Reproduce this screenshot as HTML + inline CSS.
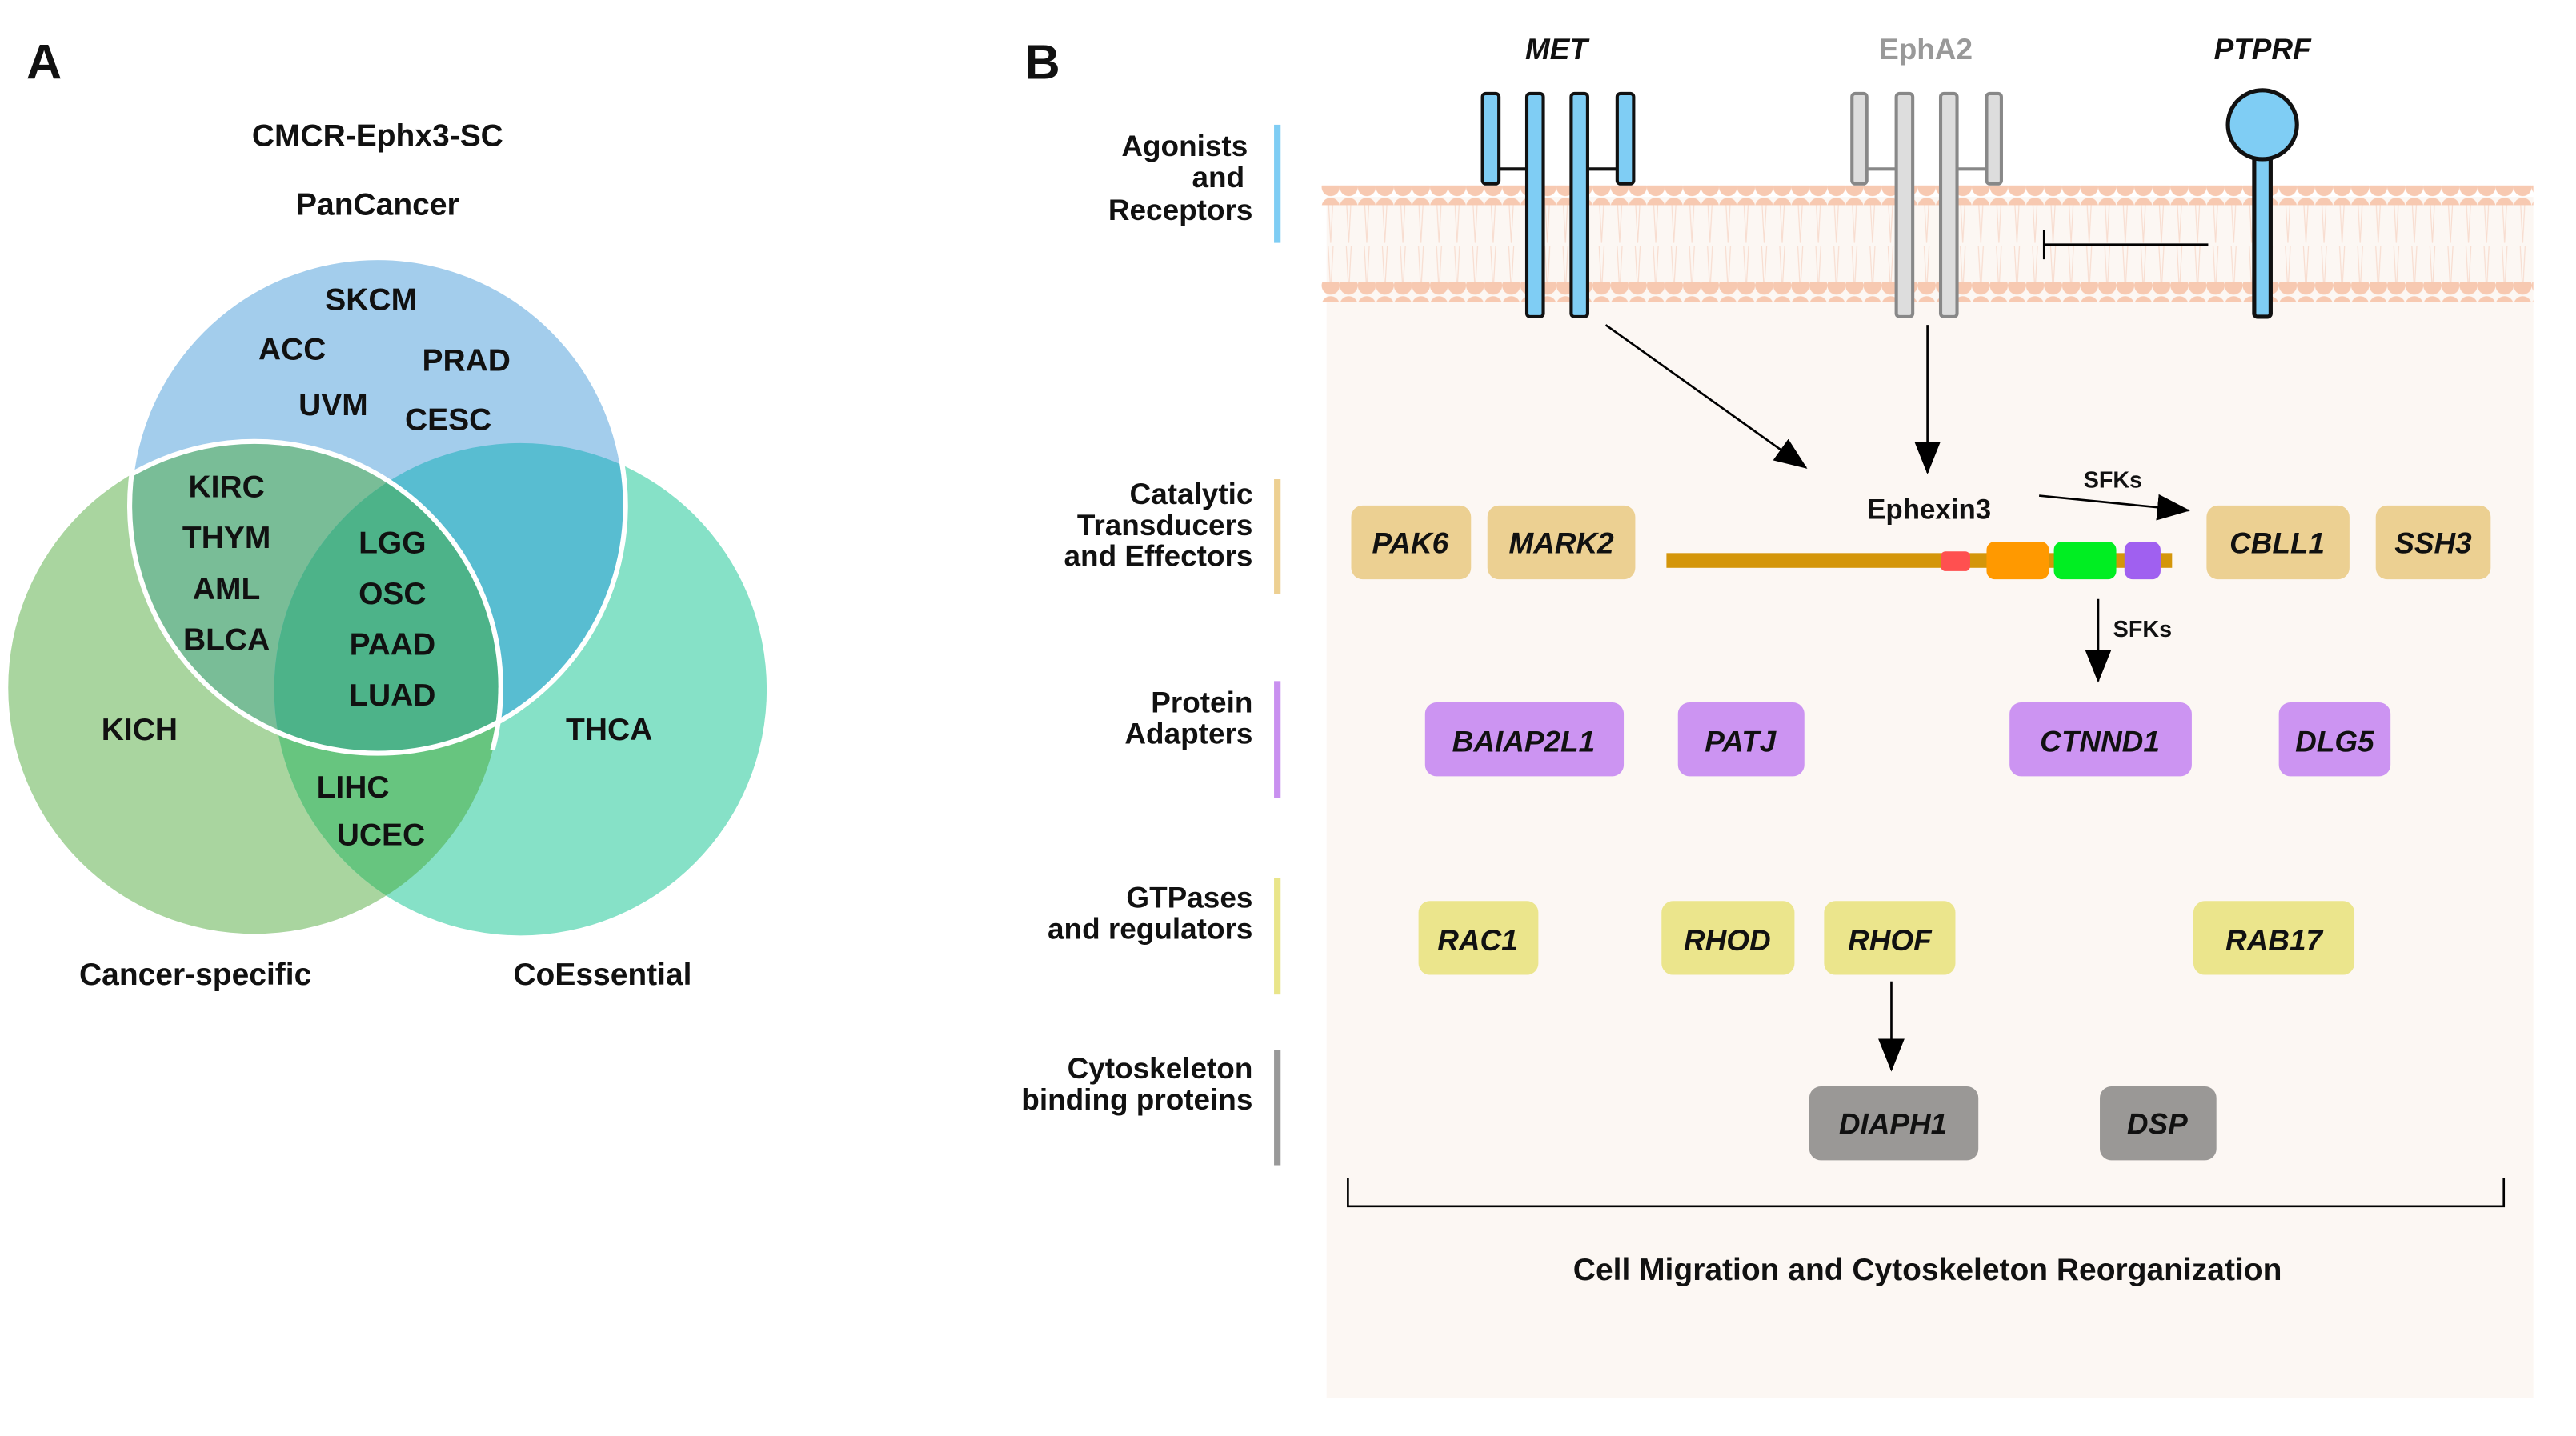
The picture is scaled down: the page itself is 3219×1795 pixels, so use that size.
<!DOCTYPE html>
<html><head><meta charset="utf-8"><style>
html,body{margin:0;padding:0;background:#fff;}
svg{display:block;}
text{font-family:"Liberation Sans",sans-serif;font-weight:bold;fill:#111;}
</style></head><body>
<svg width="3219" height="1795" viewBox="0 0 1569 875" preserveAspectRatio="none" xmlns="http://www.w3.org/2000/svg">
<defs>
<clipPath id="cg"><circle cx="155" cy="419" r="150"/></clipPath>
<clipPath id="ct"><circle cx="317" cy="420" r="150"/></clipPath>
<clipPath id="cb"><circle cx="230" cy="308" r="151"/></clipPath>
<pattern id="heads" x="805" y="0" width="11" height="12" patternUnits="userSpaceOnUse"><circle cx="5.5" cy="6" r="5.5" fill="#f7c9b1"/></pattern>
<pattern id="tails" x="805" y="0" width="11" height="30" patternUnits="userSpaceOnUse"><path d="M4 0 L5.5 28 L7 0" stroke="#f8ddd0" stroke-width="0.6" fill="none"/></pattern>
<marker id="ahb" markerWidth="20" markerHeight="16" refX="19" refY="8" orient="auto" markerUnits="userSpaceOnUse"><path d="M0,0 L20,8 L0,16 z" fill="#000"/></marker>
</defs>
<!-- Panel A -->
<text x="16" y="48" font-size="30">A</text>
<text x="230" y="89" font-size="19" text-anchor="middle">CMCR-Ephx3-SC</text>
<text x="230" y="131" font-size="19" text-anchor="middle">PanCancer</text>
<circle cx="155" cy="419" r="150" fill="#a9d59f"/>
<circle cx="317" cy="420" r="150" fill="#86e1c7"/>
<circle cx="230" cy="308" r="151" fill="#a3cdec"/>
<g clip-path="url(#cg)"><circle cx="317" cy="420" r="150" fill="#67c57f"/><circle cx="230" cy="308" r="151" fill="#79bd97"/></g>
<g clip-path="url(#ct)"><circle cx="230" cy="308" r="151" fill="#58bdd1"/></g>
<g clip-path="url(#cg)"><g clip-path="url(#ct)"><circle cx="230" cy="308" r="151" fill="#4db389"/></g></g>
<circle cx="230" cy="308" r="151" fill="none" stroke="#fff" stroke-width="3"/>
<g clip-path="url(#cb)"><circle cx="155" cy="419" r="150" fill="none" stroke="#fff" stroke-width="3"/></g>
<path d="M305 419 A150 150 0 0 1 300 457" stroke="#fff" stroke-width="3" fill="none"/>
<g font-size="19" text-anchor="middle">
<text x="226" y="189">SKCM</text><text x="178" y="219">ACC</text><text x="284" y="226">PRAD</text>
<text x="203" y="253">UVM</text><text x="273" y="262">CESC</text>
<text x="138" y="303">KIRC</text><text x="138" y="334">THYM</text><text x="138" y="365">AML</text><text x="138" y="396">BLCA</text>
<text x="239" y="337">LGG</text><text x="239" y="368">OSC</text><text x="239" y="399">PAAD</text><text x="239" y="430">LUAD</text>
<text x="85" y="451">KICH</text><text x="371" y="451">THCA</text>
<text x="215" y="486">LIHC</text><text x="232" y="515">UCEC</text>
<text x="119" y="600">Cancer-specific</text><text x="367" y="600">CoEssential</text>
</g>
<!-- Panel B -->
<text x="624" y="48" font-size="30">B</text>
<rect x="808" y="120" width="735" height="732" fill="#fcf7f3"/>
<rect x="805" y="124" width="738" height="52" fill="url(#tails)"/>
<rect x="805" y="113" width="738" height="12" fill="url(#heads)"/>
<rect x="805" y="172" width="738" height="12" fill="url(#heads)"/>
<g font-size="18" text-anchor="end">
<text x="760" y="95">Agonists</text><text x="758" y="114">and</text><text x="763" y="134">Receptors</text>
<text x="763" y="307">Catalytic</text><text x="763" y="326">Transducers</text><text x="763" y="345">and Effectors</text>
<text x="763" y="434">Protein</text><text x="763" y="453">Adapters</text>
<text x="763" y="553">GTPases</text><text x="763" y="572">and regulators</text>
<text x="763" y="657">Cytoskeleton</text><text x="763" y="676">binding proteins</text>
</g>
<rect x="776" y="76" width="4" height="72" fill="#7fcdf4"/>
<rect x="776" y="292" width="4" height="70" fill="#edd092"/>
<rect x="776" y="415" width="4" height="71" fill="#c990f0"/>
<rect x="776" y="535" width="4" height="71" fill="#e9e58a"/>
<rect x="776" y="640" width="4" height="70" fill="#999"/>
<!-- receptors -->
<g font-size="18" text-anchor="middle">
<text x="948" y="36" font-style="italic">MET</text><text x="1173" y="36" style="fill:#999">EphA2</text><text x="1378" y="36" font-style="italic">PTPRF</text>
</g>
<g stroke="#111" stroke-width="2" fill="#7fcdf4">
<line x1="913" y1="103" x2="930" y2="103"/><line x1="967" y1="103" x2="985" y2="103"/>
<rect x="903" y="57" width="10" height="55" rx="2"/><rect x="930" y="57" width="10" height="136" rx="2"/>
<rect x="957" y="57" width="10" height="136" rx="2"/><rect x="985" y="57" width="10" height="55" rx="2"/>
</g>
<g stroke="#888" stroke-width="2" fill="#ddd">
<line x1="1137" y1="103" x2="1155" y2="103"/><line x1="1192" y1="103" x2="1210" y2="103"/>
<rect x="1128" y="57" width="9" height="55" rx="2"/><rect x="1155" y="57" width="10" height="136" rx="2"/>
<rect x="1182" y="57" width="10" height="136" rx="2"/><rect x="1210" y="57" width="9" height="55" rx="2"/>
</g>
<g stroke="#111" stroke-width="2.5" fill="#7fcdf4">
<rect x="1373" y="92" width="10" height="101" rx="2"/>
<ellipse cx="1378" cy="76" rx="21" ry="21"/>
</g>
<g stroke="#000" stroke-width="1.3" fill="none">
<line x1="1345" y1="149" x2="1245" y2="149"/><line x1="1245" y1="140" x2="1245" y2="158"/>
<line x1="978" y1="198" x2="1100" y2="285" marker-end="url(#ahb)"/>
<line x1="1174" y1="198" x2="1174" y2="288" marker-end="url(#ahb)"/>
<line x1="1242" y1="302" x2="1333" y2="311" marker-end="url(#ahb)"/>
<line x1="1278" y1="365" x2="1278" y2="415" marker-end="url(#ahb)"/>
<line x1="1152" y1="598" x2="1152" y2="652" marker-end="url(#ahb)"/>
<path d="M821 718 V735 H1525 V718"/>
</g>
<text x="1175" y="316" font-size="17" text-anchor="middle">Ephexin3</text>
<text x="1287" y="297" font-size="14" text-anchor="middle">SFKs</text>
<text x="1305" y="388" font-size="14" text-anchor="middle">SFKs</text>
<rect x="1015" y="337" width="308" height="9" fill="#d4960a"/>
<rect x="1182" y="336" width="18" height="12" rx="3" fill="#ff5050"/>
<rect x="1210" y="330" width="38" height="23" rx="5" fill="#ff9900"/>
<rect x="1251" y="330" width="38" height="23" rx="5" fill="#00ee22"/>
<rect x="1294" y="330" width="22" height="23" rx="5" fill="#a060f0"/>
<!-- boxes -->
<g fill="#ecd092"><rect x="823" y="308" width="73" height="45" rx="7"/><rect x="906" y="308" width="90" height="45" rx="7"/><rect x="1344" y="308" width="87" height="45" rx="7"/><rect x="1447" y="308" width="70" height="45" rx="7"/></g>
<g fill="#cc94f2"><rect x="868" y="428" width="121" height="45" rx="7"/><rect x="1022" y="428" width="77" height="45" rx="7"/><rect x="1224" y="428" width="111" height="45" rx="7"/><rect x="1388" y="428" width="68" height="45" rx="7"/></g>
<g fill="#ebe58c"><rect x="864" y="549" width="73" height="45" rx="7"/><rect x="1012" y="549" width="81" height="45" rx="7"/><rect x="1111" y="549" width="80" height="45" rx="7"/><rect x="1336" y="549" width="98" height="45" rx="7"/></g>
<g fill="#9a9896"><rect x="1102" y="662" width="103" height="45" rx="7"/><rect x="1279" y="662" width="71" height="45" rx="7"/></g>
<g font-size="18" font-style="italic" text-anchor="middle">
<text x="859" y="337">PAK6</text><text x="951" y="337">MARK2</text><text x="1387" y="337">CBLL1</text><text x="1482" y="337">SSH3</text>
<text x="928" y="458">BAIAP2L1</text><text x="1060" y="458">PATJ</text><text x="1279" y="458">CTNND1</text><text x="1422" y="458">DLG5</text>
<text x="900" y="579">RAC1</text><text x="1052" y="579">RHOD</text><text x="1151" y="579">RHOF</text><text x="1385" y="579">RAB17</text>
<text x="1153" y="691">DIAPH1</text><text x="1314" y="691">DSP</text>
</g>
<text x="1174" y="780" font-size="19" text-anchor="middle">Cell Migration and Cytoskeleton Reorganization</text>
</svg>
</body></html>
